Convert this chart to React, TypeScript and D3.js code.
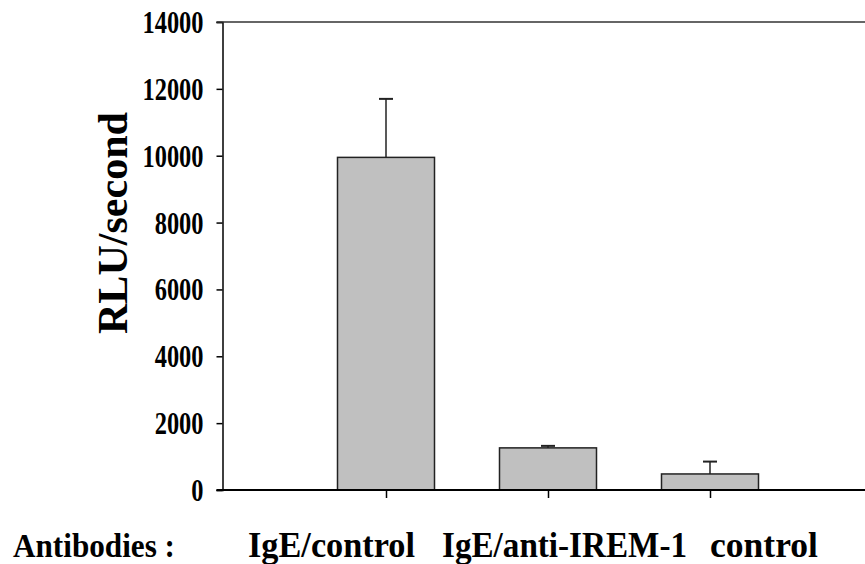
import React, { useEffect, useRef } from "react";
import * as d3 from "d3";

const categories = ["IgE/control", "IgE/anti-IREM-1", "control"];
const values = [9950, 1260, 480];
const errors = [1750, 60, 370];
const yTicks = [0, 2000, 4000, 6000, 8000, 10000, 12000, 14000];

const FONT = "'Liberation Serif', 'Times New Roman', serif";

const App = () => {
  const svgRef = useRef<SVGSVGElement>(null);

  useEffect(() => {
    const width = 865;
    const height = 564;
    const left = 222.5;
    const top = 22;
    const bottom = 490;

    const svg = d3.select(svgRef.current);
    svg.selectAll("*").remove();
    svg.attr("width", width).attr("height", height);

    const y = d3.scaleLinear().domain([0, 14000]).range([bottom, top]);
    const x = d3
      .scalePoint<string>()
      .domain(["_start", ...categories, "_end"])
      .range([224, 872]);
    const barWidth = 97;

    const data = categories.map((c, i) => ({ cat: c, value: values[i], err: errors[i] }));

    // bars
    svg
      .selectAll("rect.bar")
      .data(data)
      .enter()
      .append("rect")
      .attr("class", "bar")
      .attr("x", (d) => (x(d.cat) as number) - barWidth / 2)
      .attr("y", (d) => y(d.value))
      .attr("width", barWidth)
      .attr("height", (d) => y(0) - y(d.value))
      .attr("fill", "#c0c0c0")
      .attr("stroke", "#222")
      .attr("stroke-width", 1.5);

    // error bars
    const eb = svg.selectAll("g.err").data(data).enter().append("g");
    eb.append("line")
      .attr("x1", (d) => x(d.cat) as number)
      .attr("x2", (d) => x(d.cat) as number)
      .attr("y1", (d) => y(d.value))
      .attr("y2", (d) => y(d.value + d.err))
      .attr("stroke", "#222")
      .attr("stroke-width", 1.5);
    eb.append("line")
      .attr("x1", (d) => (x(d.cat) as number) - 7)
      .attr("x2", (d) => (x(d.cat) as number) + 7)
      .attr("y1", (d) => y(d.value + d.err))
      .attr("y2", (d) => y(d.value + d.err))
      .attr("stroke", "#222")
      .attr("stroke-width", 2);

    // y axis
    const yAxis = svg
      .append("g")
      .attr("transform", `translate(${left},0)`)
      .call(d3.axisLeft(y).tickValues(yTicks).tickSize(6).tickPadding(13).tickFormat(d3.format("d")));
    yAxis.select(".domain").attr("stroke", "#000").attr("stroke-width", 1.5);
    yAxis.selectAll(".tick line").attr("stroke", "#000").attr("stroke-width", 1.5);
    yAxis
      .selectAll(".tick text")
      .attr("font-family", FONT)
      .attr("font-weight", "bold")
      .style("font-size", "31px")
      .attr("dy", "0.34em")
      .attr("textLength", (d: any) => String(d).length * 12.2)
      .attr("lengthAdjust", "spacingAndGlyphs")
      .attr("fill", "#000");

    // top frame line
    svg
      .append("line")
      .attr("x1", left - 6)
      .attr("x2", width)
      .attr("y1", y(14000))
      .attr("y2", y(14000))
      .attr("stroke", "#333")
      .attr("stroke-width", 1.5);

    // x axis
    const xAxis = svg
      .append("g")
      .attr("transform", `translate(0,${y(0)})`)
      .call(d3.axisBottom(x).tickValues(categories).tickSize(8).tickFormat(() => ""));
    xAxis.select(".domain").remove();
    xAxis.selectAll(".tick line").attr("stroke", "#000").attr("stroke-width", 1.5);
    svg
      .append("line")
      .attr("x1", left - 6)
      .attr("x2", width)
      .attr("y1", y(0))
      .attr("y2", y(0))
      .attr("stroke", "#000")
      .attr("stroke-width", 2);

    // y label
    svg
      .append("text")
      .attr("transform", "translate(127,223) rotate(-90)")
      .attr("text-anchor", "middle")
      .attr("font-family", FONT)
      .attr("font-weight", "bold")
      .style("font-size", "42px")
      .attr("textLength", 222)
      .attr("lengthAdjust", "spacingAndGlyphs")
      .text("RLU/second");

    // bottom labels
    const labels = [
      { t: "Antibodies :", x: 13, w: 162, s: 34 },
      { t: categories[0], x: 248, w: 167, s: 35 },
      { t: categories[1], x: 442, w: 245, s: 35 },
      { t: categories[2], x: 710, w: 108, s: 35 },
    ];
    svg
      .selectAll("text.lab")
      .data(labels)
      .enter()
      .append("text")
      .attr("class", "lab")
      .attr("x", (d) => d.x)
      .attr("y", 557)
      .attr("font-family", FONT)
      .attr("font-weight", "bold")
      .style("font-size", (d) => d.s + "px")
      .attr("textLength", (d) => d.w)
      .attr("lengthAdjust", "spacingAndGlyphs")
      .text((d) => d.t);
  }, []);

  return (
    <div>
      <style>{`body{margin:0;background:#fff}`}</style>
      <svg ref={svgRef} style={{ display: "block" }}></svg>
    </div>
  );
};

export default App;
